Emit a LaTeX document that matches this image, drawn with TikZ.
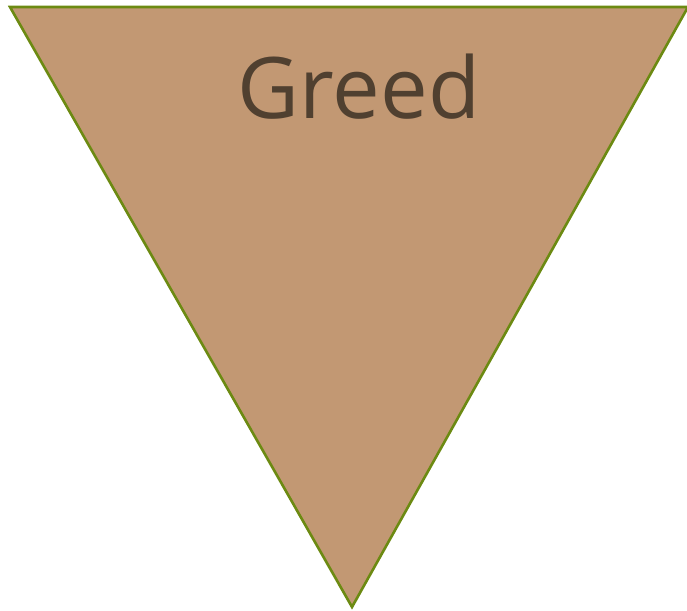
\documentclass[tikz,border=0pt]{standalone}
\usepackage{fontspec}
\setmainfont{Open Sans}
\definecolor{tri}{HTML}{C29873}
\definecolor{edge}{HTML}{6C8A12}
\definecolor{txt}{HTML}{504030}
\begin{document}
\begin{tikzpicture}[x=1pt,y=-1pt,
  tristyle/.style={fill=tri,draw=edge,line width=2.6pt,line join=miter},
  labelstyle/.style={text=txt,font=\fontsize{85}{100}\selectfont,inner sep=0pt,anchor=base}]
\useasboundingbox (0,0) rectangle (687,610);
\coordinate (tl) at (10,7);
\coordinate (tr) at (688,7);
\coordinate (bt) at (352,607);
\path[tristyle] (tl) -- (tr) -- (bt) -- cycle;
\node[labelstyle] (lbl) at (359,118) {Greed};
\end{tikzpicture}
\end{document}
